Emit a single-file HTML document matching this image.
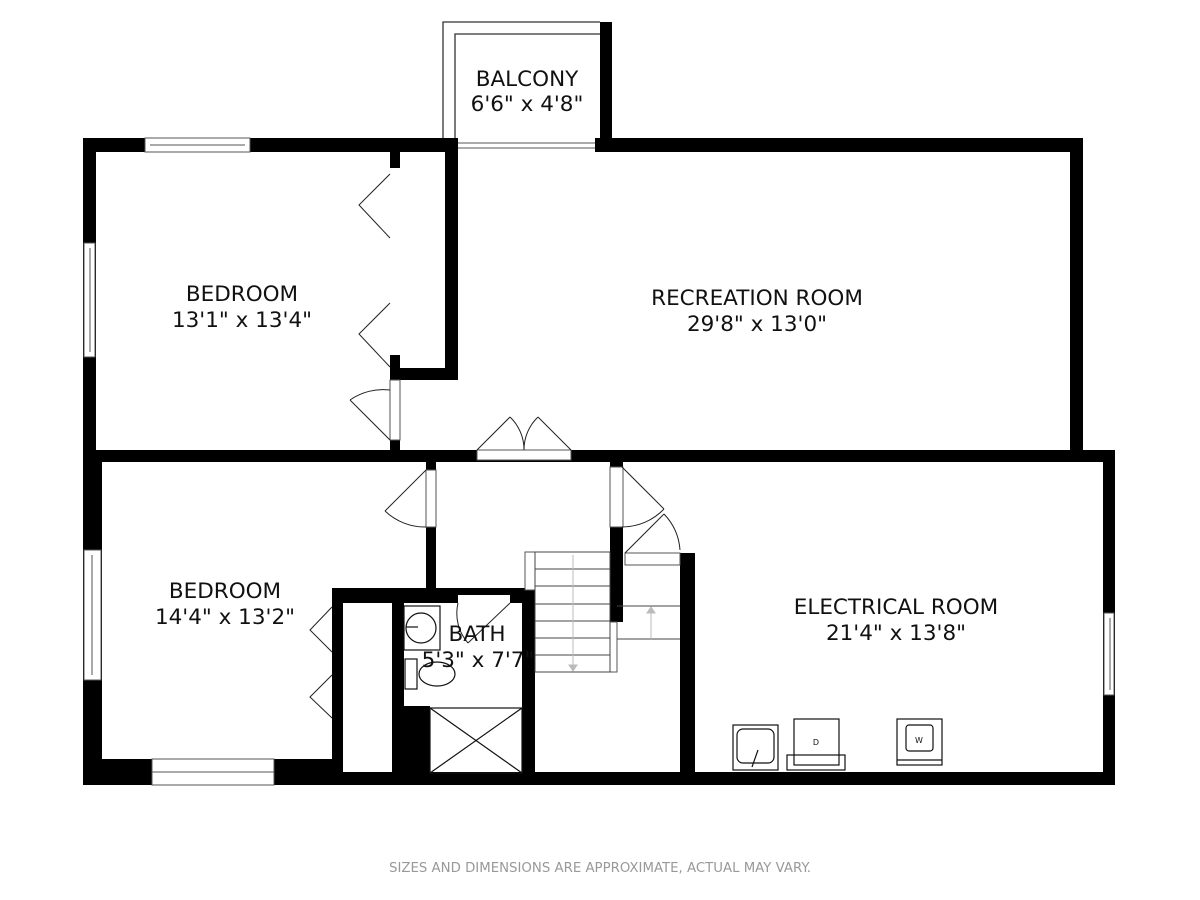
<!DOCTYPE html>
<html><head><meta charset="utf-8"><style>
html,body{margin:0;padding:0;background:#fff;width:1200px;height:900px;overflow:hidden}
text{font-family:"DejaVu Sans","Liberation Sans",sans-serif;fill:#111}
</style></head><body>
<svg width="1200" height="900" viewBox="0 0 1200 900" xmlns="http://www.w3.org/2000/svg">
<g fill="#000" stroke="none">
<rect x="83" y="138" width="375" height="14"/>
<rect x="83" y="138" width="13" height="322"/>
<rect x="445" y="138" width="13" height="242"/>
<rect x="390" y="368" width="68" height="12"/>
<rect x="390" y="152" width="10" height="16"/>
<rect x="390" y="355" width="10" height="25"/>
<rect x="390" y="440" width="10" height="12"/>
<rect x="600" y="22" width="12" height="130"/>
<rect x="595" y="138" width="17" height="14"/>
<rect x="595" y="138" width="488" height="14"/>
<rect x="1070" y="138" width="13" height="314"/>
<rect x="83" y="450" width="1032" height="12"/>
<rect x="83" y="450" width="19" height="335"/>
<rect x="83" y="759" width="70" height="26"/>
<rect x="273" y="759" width="70" height="26"/>
<rect x="332" y="588" width="11" height="197"/>
<rect x="332" y="588" width="202" height="15"/>
<rect x="392" y="588" width="12" height="197"/>
<rect x="404" y="706" width="26" height="69"/>
<rect x="522" y="588" width="13" height="197"/>
<rect x="426" y="461" width="10" height="140"/>
<rect x="610" y="455" width="13" height="12"/>
<rect x="610" y="527" width="13" height="95"/>
<rect x="680" y="553" width="15" height="232"/>
<rect x="1103" y="450" width="12" height="335"/>
<rect x="83" y="772" width="1032" height="13"/>
</g>
<g fill="#fff" stroke="#555" stroke-width="1">
<rect x="145" y="138" width="105" height="14"/>
<rect x="84" y="243" width="11" height="114"/>
<rect x="84" y="550" width="17" height="130"/>
<rect x="152" y="759" width="122" height="26"/>
<rect x="1104" y="613" width="10" height="82"/>
<rect x="477" y="450" width="94" height="10"/>
<rect x="458" y="595" width="52" height="8" stroke="none"/>
<rect x="390" y="380" width="10" height="60"/>
<rect x="426" y="470" width="10" height="57"/>
<rect x="610" y="467" width="13" height="60"/>
<rect x="610" y="622" width="7" height="50"/>
<rect x="525" y="552" width="10" height="38"/>
<rect x="625" y="553" width="55" height="12"/>
</g>
<g fill="none" stroke="#555" stroke-width="1">
<line x1="152" y1="772" x2="274" y2="772"/>
<line x1="150" y1="145" x2="245" y2="145"/>
<line x1="90" y1="248" x2="90" y2="352"/>
<line x1="92" y1="555" x2="92" y2="675"/>
<line x1="1110" y1="618" x2="1110" y2="690"/>
<line x1="458" y1="143" x2="595" y2="143"/>
<line x1="458" y1="148" x2="595" y2="148"/>
</g>
<g fill="none" stroke="#333" stroke-width="1.3">
<polyline points="443,138 443,22 600,22"/>
<polyline points="455,138 455,34 600,34"/>
</g>
<g fill="none" stroke="#222" stroke-width="1">
<polyline points="390,174 359,205 390,238"/>
<polyline points="390,303 359,334 390,367"/>
<polyline points="332,607 310,630 332,652"/>
<polyline points="332,675 310,697 332,718"/>
<line x1="390" y1="440" x2="350" y2="400"/>
<path d="M350,400 A58,58 0 0 1 390,390"/>
<line x1="477" y1="450" x2="510" y2="417"/>
<path d="M510,417 A45,45 0 0 1 524,450"/>
<line x1="571" y1="450" x2="538" y2="417"/>
<path d="M538,417 A45,45 0 0 0 524,450"/>
<line x1="426" y1="470" x2="385" y2="511"/>
<path d="M385,511 A58,58 0 0 0 426,527"/>
<line x1="622" y1="467" x2="664" y2="509"/>
<path d="M664,509 A58,58 0 0 1 622,527"/>
<line x1="625" y1="553" x2="664" y2="514"/>
<path d="M664,514 A58,58 0 0 1 680,550"/>
<line x1="510" y1="603" x2="468" y2="643"/>
<path d="M458,603 A45,45 0 0 0 468,643"/>
</g>
<g fill="none" stroke="#444" stroke-width="1">
<rect x="535" y="552" width="75" height="120"/>
<line x1="535" y1="569" x2="610" y2="569"/><line x1="535" y1="586" x2="610" y2="586"/>
<line x1="535" y1="604" x2="610" y2="604"/><line x1="535" y1="621" x2="610" y2="621"/>
<line x1="535" y1="638" x2="610" y2="638"/><line x1="535" y1="655" x2="610" y2="655"/>
<line x1="617" y1="606" x2="680" y2="606"/><line x1="617" y1="639" x2="680" y2="639"/>
</g>
<g stroke="#bbb" fill="#bbb">
<line x1="573" y1="555" x2="573" y2="668"/><polygon points="569,665 577,665 573,671"/>
<line x1="651" y1="612" x2="651" y2="639"/><polygon points="647,613 655,613 651,607"/>
</g>
<g fill="none" stroke="#111" stroke-width="1.2">
<rect x="404" y="606" width="36" height="44"/>
<circle cx="421" cy="628" r="15"/>
<line x1="406" y1="627" x2="418" y2="627"/>
<rect x="405" y="659" width="12" height="30"/>
<ellipse cx="437" cy="674" rx="18" ry="12"/>
<rect x="430" y="708" width="92" height="65"/>
<line x1="430" y1="708" x2="522" y2="773"/>
<line x1="522" y1="708" x2="430" y2="773"/>
<rect x="733" y="725" width="45" height="45"/>
<rect x="737" y="729" width="37" height="34" rx="6"/>
<line x1="752" y1="767" x2="758" y2="750"/>
<rect x="794" y="719" width="45" height="46"/>
<rect x="787" y="755" width="58" height="15"/>
<rect x="897" y="719" width="45" height="46"/>
<rect x="906" y="725" width="27" height="26" rx="3"/>
<line x1="897" y1="760" x2="942" y2="760"/>
</g>
<text x="816" y="745" font-size="8" text-anchor="middle">D</text>
<text x="919" y="743" font-size="8" text-anchor="middle">W</text>
<g font-size="21.5" text-anchor="middle">
<text x="527" y="86">BALCONY</text><text x="527" y="111">6'6" x 4'8"</text>
<text x="242" y="301">BEDROOM</text><text x="242" y="327">13'1" x 13'4"</text>
<text x="757" y="305">RECREATION ROOM</text><text x="757" y="331">29'8" x 13'0"</text>
<text x="225" y="598">BEDROOM</text><text x="225" y="624">14'4" x 13'2"</text>
<text x="896" y="614">ELECTRICAL ROOM</text><text x="896" y="640">21'4" x 13'8"</text>
<text x="477" y="641">BATH</text><text x="478" y="667">5'3" x 7'7"</text>
</g>
<text x="600" y="872" font-size="13.3" text-anchor="middle" style="fill:#999">SIZES AND DIMENSIONS ARE APPROXIMATE, ACTUAL MAY VARY.</text>
</svg>
</body></html>
